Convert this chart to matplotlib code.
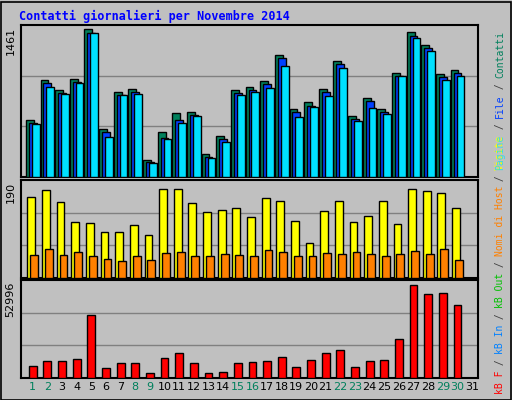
import matplotlib
matplotlib.use("Agg")
import matplotlib.pyplot as plt
import numpy as np

days = list(range(1, 32))
weekend = [1, 2, 8, 9, 15, 16, 22, 23, 29, 30]

contatti = [560, 961, 861, 971, 1461, 480, 841, 871, 170, 450, 630, 640, 230, 410, 861,
            891, 951, 1211, 670, 741, 871, 1151, 600, 781, 670, 1031, 1431, 1311, 1021, 1061]
files = [530, 930, 830, 940, 1430, 450, 810, 840, 150, 390, 560, 610, 200, 380, 830,
         860, 920, 1180, 640, 700, 840, 1120, 570, 750, 640, 1000, 1400, 1280, 990, 1030]
pagine = [520, 891, 821, 931, 1421, 400, 811, 821, 140, 380, 530, 600, 190, 350, 811,
          840, 880, 1100, 590, 690, 800, 1080, 550, 680, 620, 1000, 1380, 1250, 960, 1000]
visite = [169, 184, 158, 116, 114, 97, 97, 110, 89, 186, 186, 156, 137, 143, 146,
          127, 167, 160, 120, 74, 139, 160, 118, 129, 160, 112, 186, 182, 177, 146]
host = [49, 61, 49, 55, 46, 40, 36, 46, 38, 53, 55, 46, 46, 51, 49,
        46, 59, 55, 46, 46, 53, 51, 55, 51, 46, 51, 57, 51, 61, 38]
kbf = [6900, 9800, 9800, 10900, 35700, 5800, 8600, 8600, 2900, 11500, 14400, 8600, 2900, 3500, 8600,
       9200, 9800, 12100, 6300, 10400, 14400, 16100, 6300, 9800, 10400, 22500, 52996, 47800, 48400, 41500]

BG = "#c0c0c0"
W, H = 512, 400
fig = plt.figure(figsize=(W / 100, H / 100), dpi=100, facecolor=BG)
fig.patches.append(plt.Rectangle((0.5 / W, 0.5 / H), 1 - 2 / W, 1 - 2 / H, transform=fig.transFigure,
                                  fill=False, edgecolor="black", lw=1.2))
mono = "DejaVu Sans Mono"


def box(x0, y0, x1, y1):
    return fig.add_axes([x0 / W, 1 - y1 / H, (x1 - x0) / W, (y1 - y0) / H], facecolor=BG)


x = np.array(days[:30], dtype=float)
panels = [(25, 177), (180, 278), (280, 378)]
axes = [box(21, a, 478, b) for a, b in panels]
for ax in axes:
    ax.set_xlim(0.2, 31.4)
    ax.set_xticks([])
    ax.set_yticks([])
    for s in ax.spines.values():
        s.set_linewidth(1.5)

ax1, ax2, ax3 = axes
step = 1 / 15.0
for vals, col, off in [(contatti, "#00805c", -3), (files, "#0040ff", 0), (pagine, "#00e0ff", 3)]:
    ax1.bar(x + off * step, vals, width=8 * step, color=col, edgecolor="black", lw=1, zorder=3)
top1 = 1461 * 1.03
ax1.set_ylim(0, top1)
for g in (top1 / 3, 2 * top1 / 3):
    ax1.axhline(g, color="#808080", lw=1, zorder=1)

ax2.bar(x - 1.5 * step, visite, width=8 * step, color="#ffff00", edgecolor="black", lw=1, zorder=3)
ax2.bar(x + 1.5 * step, host, width=8 * step, color="#ff8000", edgecolor="black", lw=1, zorder=3)
top2 = 190 * 97 / 90
ax2.set_ylim(0, top2)
for g in (top2 / 3, 2 * top2 / 3):
    ax2.axhline(g, color="#808080", lw=1, zorder=1)

ax3.bar(x, kbf, width=8 * step, color="#ff0000", edgecolor="black", lw=1, zorder=3)
top3 = 52996 * 97 / 92
ax3.set_ylim(0, top3)
for g in (top3 / 3, 2 * top3 / 3):
    ax3.axhline(g, color="#808080", lw=1, zorder=1)

# max labels on the left, reading upward from the top of each panel
for ax, lab in [(ax1, "1461"), (ax2, "190"), (ax3, "52996")]:
    ax.text(-0.012, 0.985, lab, transform=ax.transAxes, rotation=90,
            ha="right", va="top", fontsize=8, family="DejaVu Sans")

# day labels
for d in days:
    ax3.text(d, -0.04, str(d), transform=ax3.get_xaxis_transform(), ha="center", va="top",
             fontsize=8, color="#00805c" if d in weekend else "black")

fig.text(19 / W, 1 - 16 / H, "Contatti giornalieri per Novembre 2014", color="#0000ff",
         fontsize=8.5, fontweight="bold", family=mono, va="center")

# right-side legend built bottom-up
segs = [("kB F", "#ff0000"), (" / ", "#404040"), ("kB In", "#0080ff"), (" / ", "#404040"),
        ("kB Out", "#00c000"), (" / ", "#404040"), ("Nomi di Host", "#ff8000"), (" / ", "#404040"),
        ("Visite", "#ffff00"), (" / ", "#404040"), ("File", "#0040ff"), (" / ", "#404040"),
        ("Contatti", "#00805c")]
cw = 5.75
ypos = 394.0
for txt, col in segs:
    fig.text(500 / W, 1 - ypos / H, txt, color=col, rotation=90, fontsize=7, family=mono,
             ha="center", va="bottom")
    if txt == "Visite":
        fig.text(500 / W, 1 - ypos / H, "Pagine", color="#00e0ff", rotation=90, fontsize=7,
                 family=mono, ha="center", va="bottom", alpha=0.7)
    ypos -= cw * len(txt)

fig.savefig("out.png", dpi=100, facecolor=BG)
